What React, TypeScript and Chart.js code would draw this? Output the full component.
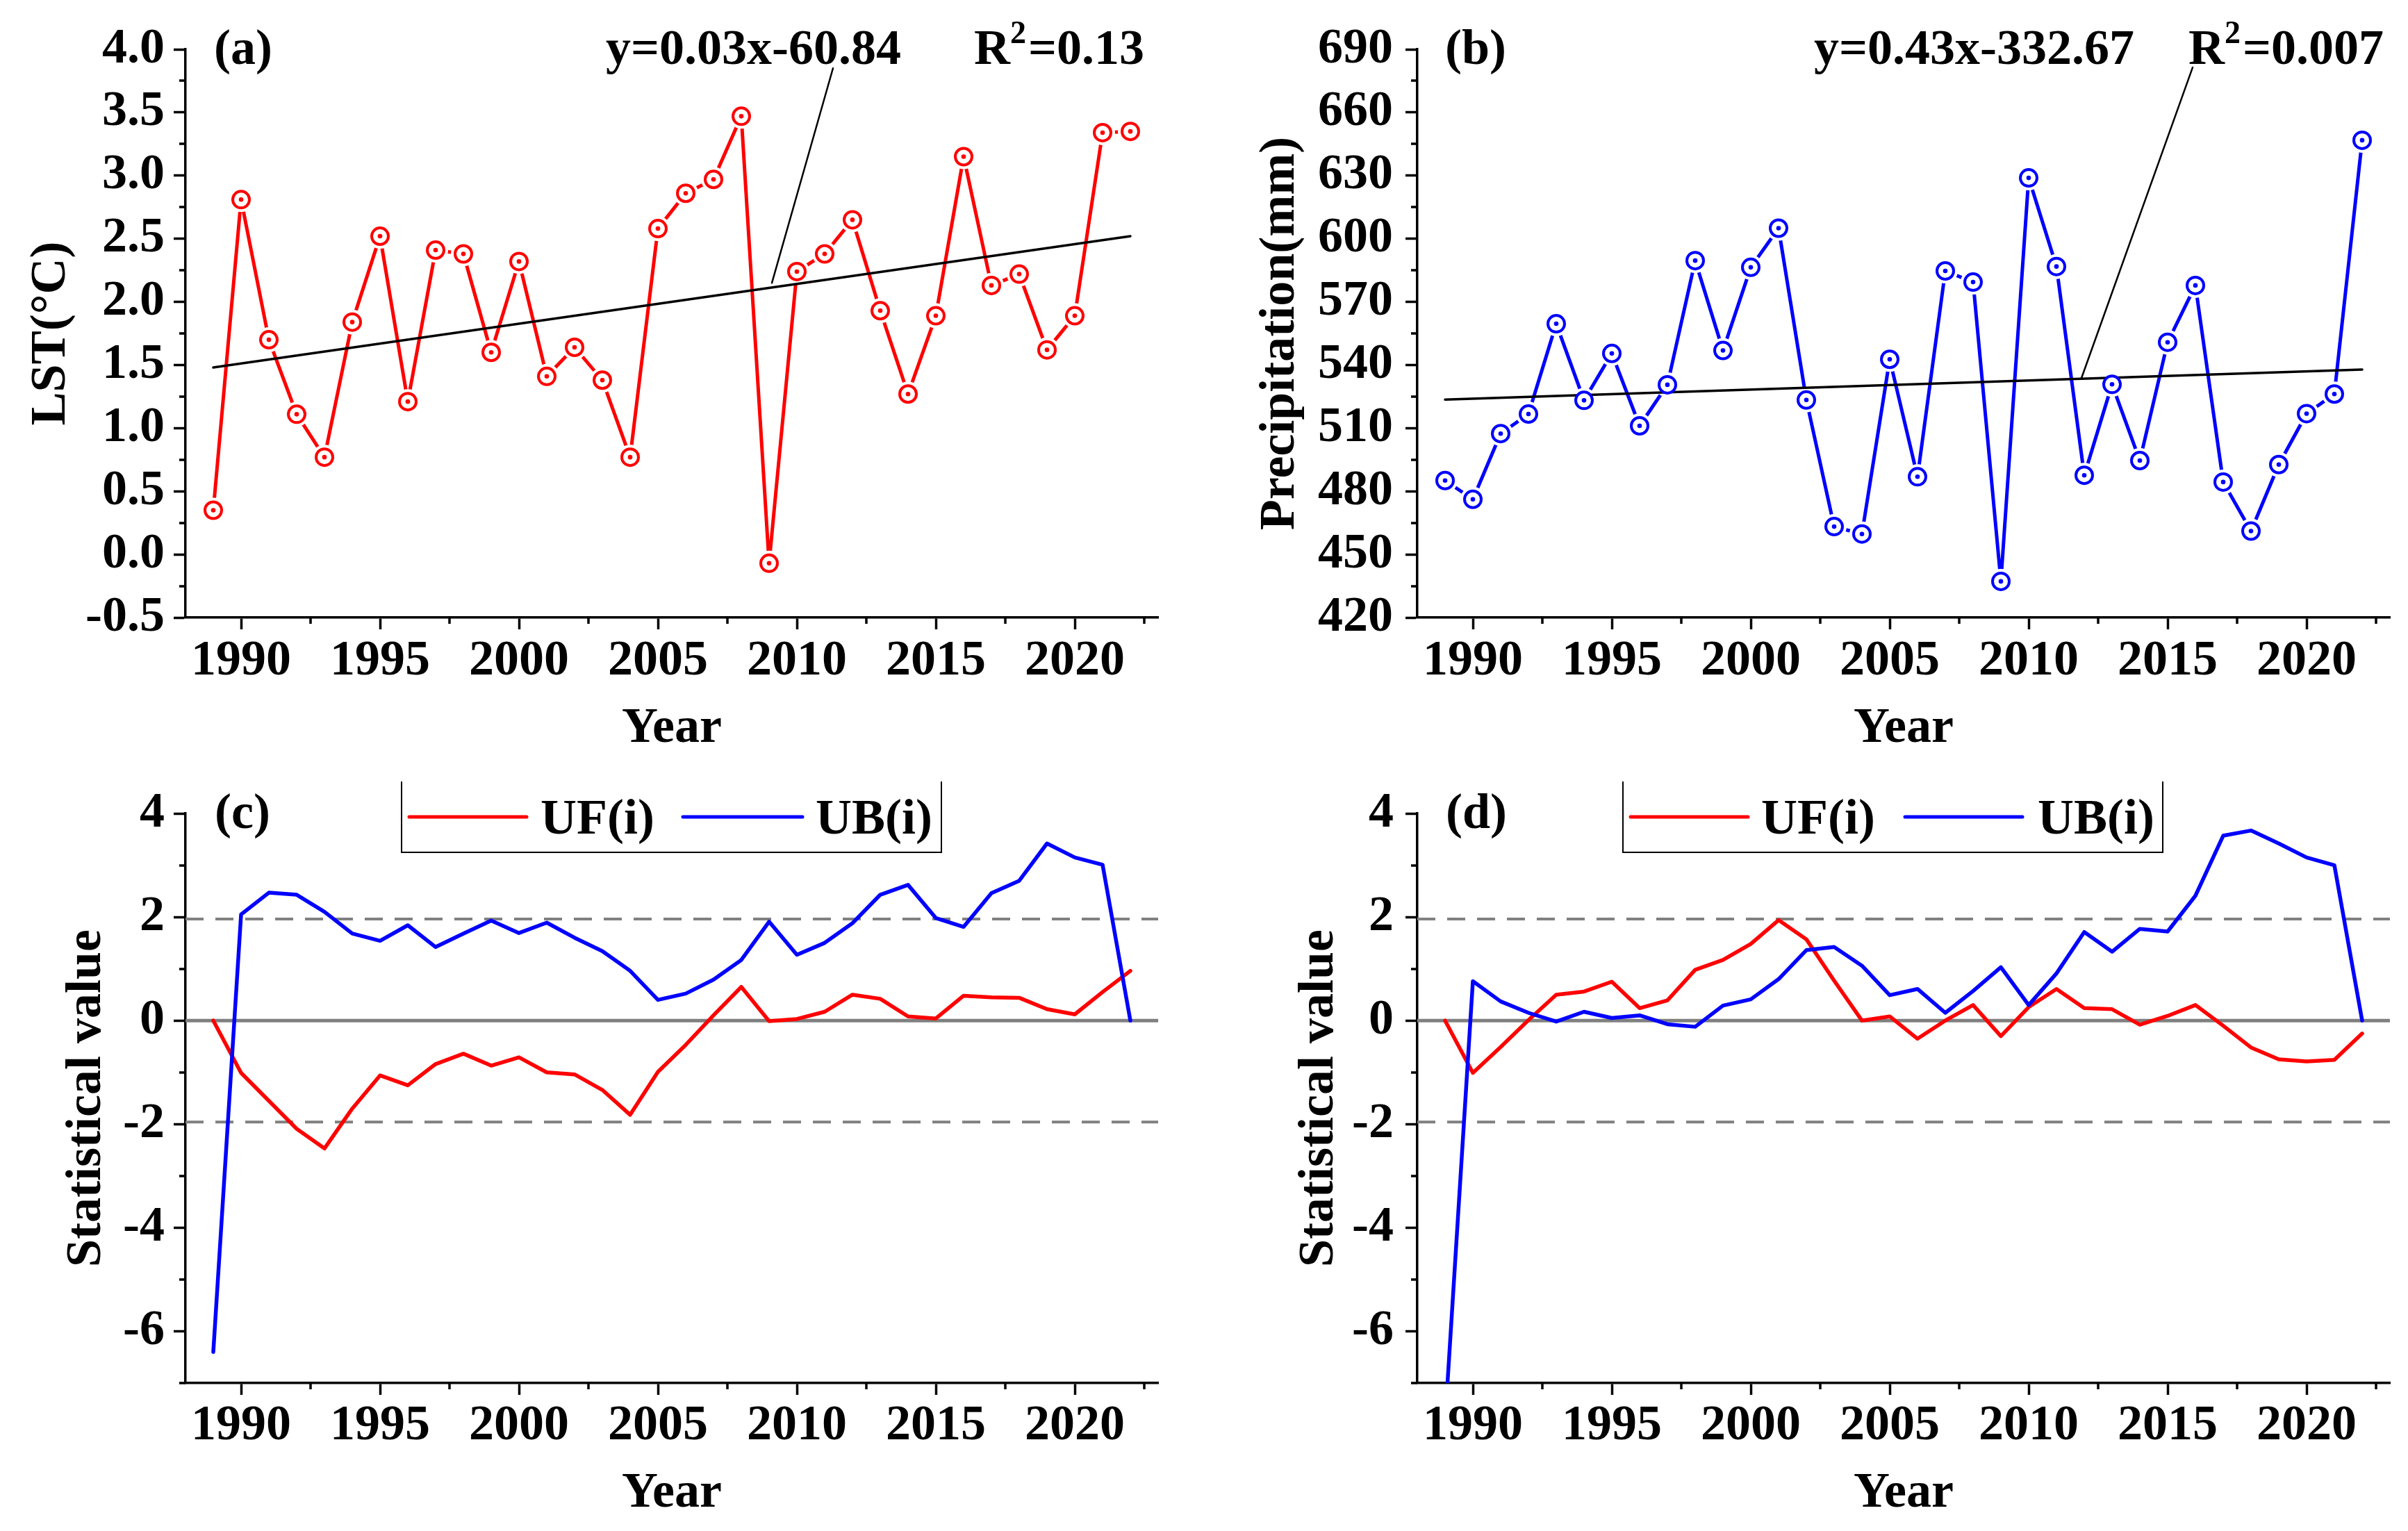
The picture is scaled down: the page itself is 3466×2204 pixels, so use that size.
import React, { useEffect, useRef } from "react";
import { Chart, registerables } from "chart.js";
Chart.register(...registerables);

// ---------------- data ----------------
const years = [1989, 1990, 1991, 1992, 1993, 1994, 1995, 1996, 1997, 1998, 1999, 2000, 2001, 2002, 2003, 2004, 2005, 2006, 2007, 2008, 2009, 2010, 2011, 2012, 2013, 2014, 2015, 2016, 2017, 2018, 2019, 2020, 2021, 2022];

const lstValues = [0.35, 2.81, 1.70, 1.11, 0.77, 1.84, 2.52, 1.21, 2.41, 2.38, 1.60, 2.32, 1.41, 1.64, 1.38, 0.77, 2.58, 2.86, 2.97, 3.47, -0.07, 2.24, 2.38, 2.65, 1.93, 1.27, 1.89, 3.15, 2.13, 2.22, 1.62, 1.89, 3.34, 3.35];
const lstTrendYears = [1989, 2022];
const lstTrendValues = [1.48, 2.52];
const lstLeaderYears = [2009.1, 2011.3];
const lstLeaderValues = [2.15, 3.85];

const precipValues = [485.1, 476.2, 507.4, 516.7, 559.6, 523.2, 545.5, 511.1, 530.6, 589.6, 546.9, 586.4, 605.0, 523.4, 463.2, 459.7, 542.7, 486.9, 584.7, 579.4, 437.2, 628.9, 586.8, 487.6, 530.8, 494.6, 550.8, 577.8, 484.4, 461.1, 492.7, 516.9, 526.2, 646.8];
const precipTrendYears = [1989, 2022];
const precipTrendValues = [523.6, 537.8];
const precipLeaderYears = [2011.9, 2015.9];
const precipLeaderValues = [533.8, 681.4];

const ufLst = [0, -1.01, -1.55, -2.09, -2.47, -1.70, -1.06, -1.25, -0.84, -0.64, -0.87, -0.71, -1.00, -1.04, -1.34, -1.82, -0.99, -0.47, 0.10, 0.65, -0.01, 0.03, 0.17, 0.50, 0.42, 0.08, 0.04, 0.48, 0.45, 0.44, 0.22, 0.12, 0.55, 0.96];
const ubLst = [-6.40, 2.05, 2.47, 2.43, 2.10, 1.68, 1.54, 1.84, 1.42, 1.68, 1.93, 1.69, 1.89, 1.60, 1.34, 0.96, 0.40, 0.52, 0.79, 1.17, 1.91, 1.27, 1.50, 1.88, 2.43, 2.62, 1.98, 1.81, 2.46, 2.70, 3.42, 3.15, 3.01, 0];

const ufPrecip = [0, -1.01, -0.51, 0.01, 0.50, 0.56, 0.75, 0.24, 0.39, 0.98, 1.17, 1.48, 1.94, 1.57, 0.77, 0.0, 0.08, -0.35, 0.0, 0.30, -0.30, 0.26, 0.61, 0.24, 0.22, -0.08, 0.09, 0.30, -0.10, -0.52, -0.75, -0.79, -0.76, -0.25];
const ubPrecip = [-7.74, 0.76, 0.37, 0.15, -0.02, 0.17, 0.05, 0.10, -0.07, -0.12, 0.29, 0.41, 0.80, 1.36, 1.42, 1.06, 0.49, 0.61, 0.15, 0.57, 1.03, 0.30, 0.91, 1.71, 1.33, 1.77, 1.72, 2.41, 3.57, 3.67, 3.42, 3.15, 3.00, 0];

const criticalValue = 1.96;
const xRange = [1988, 2023];

const xTicks = [1990, 1995, 2000, 2005, 2010, 2015, 2020];
const xMinorTicks = [1992.5, 1997.5, 2002.5, 2007.5, 2012.5, 2017.5, 2022.5];
const lstTicks = [-0.5, 0, 0.5, 1.0, 1.5, 2.0, 2.5, 3.0, 3.5, 4.0];
const lstMinorTicks = [-0.25, 0.25, 0.75, 1.25, 1.75, 2.25, 2.75, 3.25, 3.75];
const precipTicks = [420, 450, 480, 510, 540, 570, 600, 630, 660, 690];
const precipMinorTicks = [435, 465, 495, 525, 555, 585, 615, 645, 675];
const statTicks = [-6, -4, -2, 0, 2, 4];
const statMinorTicks = [-7, -5, -3, -1, 1, 3];

// ---------------- styles ----------------
const FONT = '"Liberation Serif", "Times New Roman", serif';
const FS = 72;
const RED = "#FF0000";
const BLUE = "#0000FF";
const GRAY = "#808080";
const AXIS_W = 3.5;

const pts = (xs: number[], ys: number[]) => xs.map((x, i) => ({ x, y: ys[i] }));

function lineDs(data: any[], color: string, width: number, order: number, extra: any = {}) {
  return {
    data,
    borderColor: color,
    backgroundColor: color,
    borderWidth: width,
    pointRadius: 0,
    fill: false,
    tension: 0,
    borderJoinStyle: "round",
    borderCapStyle: "round",
    order,
    ...extra,
  };
}

function markerSeries(values: number[], color: string) {
  const data = pts(years, values);
  return [
    lineDs(data, color, 5, 4),
    { data, showLine: false, pointRadius: 18, pointBorderWidth: 0, pointBackgroundColor: "#fff", pointBorderColor: "#fff", order: 3 },
    { data, showLine: false, pointRadius: 12, pointBorderWidth: 4, pointBackgroundColor: "#fff", pointBorderColor: color, order: 1 },
    { data, showLine: false, pointRadius: 3.3, pointBorderWidth: 0, pointBackgroundColor: color, pointBorderColor: color, order: 0 },
  ];
}

interface Spec {
  w: number;
  h: number;
  area: { left: number; right: number; top: number; bottom: number };
  yMin: number;
  yMax: number;
  yTicks: number[];
  yMinor: number[];
  yFmt: (v: number) => string;
  yTitle: string;
  yTitlePad: number;
  yTickPad: number;
  xTickPad: number;
  xTitlePad: number;
  datasets: any[];
  label: string;
  labelX: number;
  eq?: { text: string; x: number; r2: string; r2x: number };
  legend?: { left: number; right: number; top: number; bottom: number; items: { color: string; x1: number; x2: number; text: string; tx: number }[] };
}

function fontStr(size: number) {
  return `bold ${size}px ${FONT}`;
}

function decorPlugin(spec: Spec) {
  return {
    id: "decor" + spec.label,
    afterDraw(chart: any) {
      const ctx = chart.ctx as CanvasRenderingContext2D;
      const ca = chart.chartArea;
      const xs = chart.scales.x;
      const ys = chart.scales.y;
      ctx.save();
      // minor ticks
      ctx.strokeStyle = "#000";
      ctx.lineWidth = AXIS_W;
      ctx.beginPath();
      xMinorTicks.forEach((v) => {
        const p = Math.round(xs.getPixelForValue(v));
        ctx.moveTo(p, ca.bottom);
        ctx.lineTo(p, ca.bottom + 9);
      });
      spec.yMinor.forEach((v) => {
        const p = Math.round(ys.getPixelForValue(v));
        ctx.moveTo(ca.left - 9, p);
        ctx.lineTo(ca.left, p);
      });
      ctx.stroke();

      ctx.fillStyle = "#000";
      ctx.textAlign = "left";
      ctx.textBaseline = "alphabetic";
      ctx.font = fontStr(FS);
      ctx.fillText(spec.label, spec.labelX, 92);

      if (spec.eq) {
        ctx.font = fontStr(FS);
        ctx.fillText(spec.eq.text, spec.eq.x, 92);
        let x = spec.eq.r2x;
        ctx.fillText("R", x, 92);
        x += ctx.measureText("R").width;
        ctx.font = fontStr(46);
        ctx.fillText("2", x, 62);
        x += ctx.measureText("2").width + 3;
        ctx.font = fontStr(FS);
        ctx.fillText(spec.eq.r2, x, 92);
      }

      if (spec.legend) {
        const L = spec.legend;
        ctx.strokeStyle = "#000";
        ctx.lineWidth = 2;
        ctx.beginPath();
        ctx.moveTo(L.left, L.top);
        ctx.lineTo(L.left, L.bottom);
        ctx.lineTo(L.right, L.bottom);
        ctx.lineTo(L.right, L.top);
        ctx.stroke();
        L.items.forEach((it) => {
          ctx.strokeStyle = it.color;
          ctx.lineWidth = 5;
          ctx.lineCap = "round";
          ctx.beginPath();
          ctx.moveTo(it.x1, 76);
          ctx.lineTo(it.x2, 76);
          ctx.stroke();
          ctx.fillStyle = "#000";
          ctx.font = fontStr(FS);
          ctx.fillText(it.text, it.tx, 100);
        });
      }
      ctx.restore();
    },
  };
}

function makeChart(canvas: HTMLCanvasElement, spec: Spec) {
  const font = { family: FONT, size: FS, weight: "bold" as const };
  return new Chart(canvas, {
    type: "line",
    data: { datasets: spec.datasets },
    options: {
      responsive: false,
      animation: false,
      devicePixelRatio: 1,
      events: [],
      layout: { padding: { left: 0, top: spec.area.top, right: spec.w - spec.area.right, bottom: 0 } },
      plugins: { legend: { display: false }, tooltip: { enabled: false } },
      scales: {
        x: {
          type: "linear",
          position: "bottom",
          min: xRange[0],
          max: xRange[1],
          afterBuildTicks: (s: any) => {
            s.ticks = xTicks.map((v) => ({ value: v }));
          },
          afterFit: (s: any) => {
            s.height = spec.h - spec.area.bottom;
          },
          grid: { display: true, drawOnChartArea: false, drawTicks: true, tickLength: 17, tickWidth: AXIS_W, tickColor: "#000" },
          border: { display: true, color: "#000", width: AXIS_W },
          ticks: { color: "#000", font, padding: spec.xTickPad, maxRotation: 0, autoSkip: false, callback: (v: any) => String(v) },
          title: { display: true, text: "Year", color: "#000", font, padding: { top: 0, bottom: spec.xTitlePad } },
        },
        y: {
          type: "linear",
          position: "left",
          min: spec.yMin,
          max: spec.yMax,
          afterBuildTicks: (s: any) => {
            s.ticks = spec.yTicks.map((v) => ({ value: v }));
          },
          afterFit: (s: any) => {
            s.width = spec.area.left;
          },
          grid: { display: true, drawOnChartArea: false, drawTicks: true, tickLength: 17, tickWidth: AXIS_W, tickColor: "#000" },
          border: { display: true, color: "#000", width: AXIS_W },
          ticks: { color: "#000", font, padding: spec.yTickPad, autoSkip: false, callback: (v: any) => spec.yFmt(Number(v)) },
          title: { display: true, text: spec.yTitle, color: "#000", font, padding: { top: spec.yTitlePad, bottom: 0 } },
        },
      },
    } as any,
    plugins: [decorPlugin(spec)],
  });
}

const refLines = () => [
  lineDs(pts(xRange, [0, 0]), GRAY, 5, 10, { borderCapStyle: "butt" }),
  lineDs(pts(xRange, [criticalValue, criticalValue]), GRAY, 4, 10, { borderDash: [26, 17], borderCapStyle: "butt" }),
  lineDs(pts(xRange, [-criticalValue, -criticalValue]), GRAY, 4, 10, { borderDash: [26, 17], borderCapStyle: "butt" }),
];

const specA: Spec = {
  w: 1733, h: 1100,
  area: { left: 267, right: 1667, top: 71, bottom: 889 },
  yMin: -0.5, yMax: 4.0, yTicks: lstTicks, yMinor: lstMinorTicks, yFmt: (v) => v.toFixed(1),
  yTitle: "LST(°C)", yTitlePad: 31, yTickPad: 13, xTickPad: 3, xTitlePad: 7,
  datasets: [
    ...markerSeries(lstValues, RED),
    lineDs(pts(lstTrendYears, lstTrendValues), "#000", 3.5, 2),
    lineDs(pts(lstLeaderYears, lstLeaderValues), "#000", 2.5, 2),
  ],
  label: "(a)", labelX: 308,
  eq: { text: "y=0.03x-60.84", x: 872, r2: "=0.13", r2x: 1402 },
};

const specB: Spec = {
  w: 1733, h: 1100,
  area: { left: 307, right: 1707, top: 71, bottom: 889 },
  yMin: 420, yMax: 690, yTicks: precipTicks, yMinor: precipMinorTicks, yFmt: (v) => String(v),
  yTitle: "Precipitation(mm)", yTitlePad: 67, yTickPad: 18, xTickPad: 3, xTitlePad: 7,
  datasets: [
    ...markerSeries(precipValues, BLUE),
    lineDs(pts(precipTrendYears, precipTrendValues), "#000", 3.5, 2),
    lineDs(pts(precipLeaderYears, precipLeaderValues), "#000", 2.5, 2),
  ],
  label: "(b)", labelX: 347,
  eq: { text: "y=0.43x-332.67", x: 878, r2: "=0.007", r2x: 1417 },
};

const specC: Spec = {
  w: 1733, h: 1104,
  area: { left: 267, right: 1667, top: 71, bottom: 891 },
  yMin: -7, yMax: 4, yTicks: statTicks, yMinor: statMinorTicks, yFmt: (v) => String(v),
  yTitle: "Statistical value", yTitlePad: 82, yTickPad: 13, xTickPad: 2, xTitlePad: 10,
  datasets: [
    ...refLines(),
    lineDs(pts(years, ufLst), RED, 5.5, 2),
    lineDs(pts(years, ubLst), BLUE, 5.5, 1),
  ],
  label: "(c)", labelX: 309,
  legend: {
    left: 578, right: 1355, top: 25, bottom: 127,
    items: [
      { color: RED, x1: 589, x2: 758, text: "UF(i)", tx: 778 },
      { color: BLUE, x1: 983, x2: 1155, text: "UB(i)", tx: 1174 },
    ],
  },
};

const specD: Spec = {
  w: 1733, h: 1104,
  area: { left: 307, right: 1707, top: 71, bottom: 891 },
  yMin: -7, yMax: 4, yTicks: statTicks, yMinor: statMinorTicks, yFmt: (v) => String(v),
  yTitle: "Statistical value", yTitlePad: 123, yTickPad: 17, xTickPad: 2, xTitlePad: 10,
  datasets: [
    ...refLines(),
    lineDs(pts(years, ufPrecip), RED, 5.5, 2),
    lineDs(pts(years, ubPrecip), BLUE, 5.5, 1),
  ],
  label: "(d)", labelX: 348,
  legend: {
    left: 603, right: 1380, top: 25, bottom: 127,
    items: [
      { color: RED, x1: 614, x2: 783, text: "UF(i)", tx: 802 },
      { color: BLUE, x1: 1009, x2: 1178, text: "UB(i)", tx: 1200 },
    ],
  },
};

const panels = [
  { spec: specA, left: 0, top: 0 },
  { spec: specB, left: 1733, top: 0 },
  { spec: specC, left: 0, top: 1100 },
  { spec: specD, left: 1733, top: 1100 },
];

export default function App() {
  const refs = [useRef<HTMLCanvasElement>(null), useRef<HTMLCanvasElement>(null), useRef<HTMLCanvasElement>(null), useRef<HTMLCanvasElement>(null)];
  useEffect(() => {
    const charts: Chart[] = [];
    panels.forEach((p, i) => {
      const c = refs[i].current;
      if (c) charts.push(makeChart(c, p.spec));
    });
    return () => charts.forEach((c) => c.destroy());
  }, []);
  return (
    <div style={{ position: "absolute", left: 0, top: 0, width: 3466, height: 2204, background: "#fff", overflow: "hidden" }}>
      {panels.map((p, i) => (
        <canvas
          key={i}
          ref={refs[i]}
          width={p.spec.w}
          height={p.spec.h}
          style={{ position: "absolute", left: p.left, top: p.top, width: p.spec.w, height: p.spec.h }}
        />
      ))}
    </div>
  );
}
